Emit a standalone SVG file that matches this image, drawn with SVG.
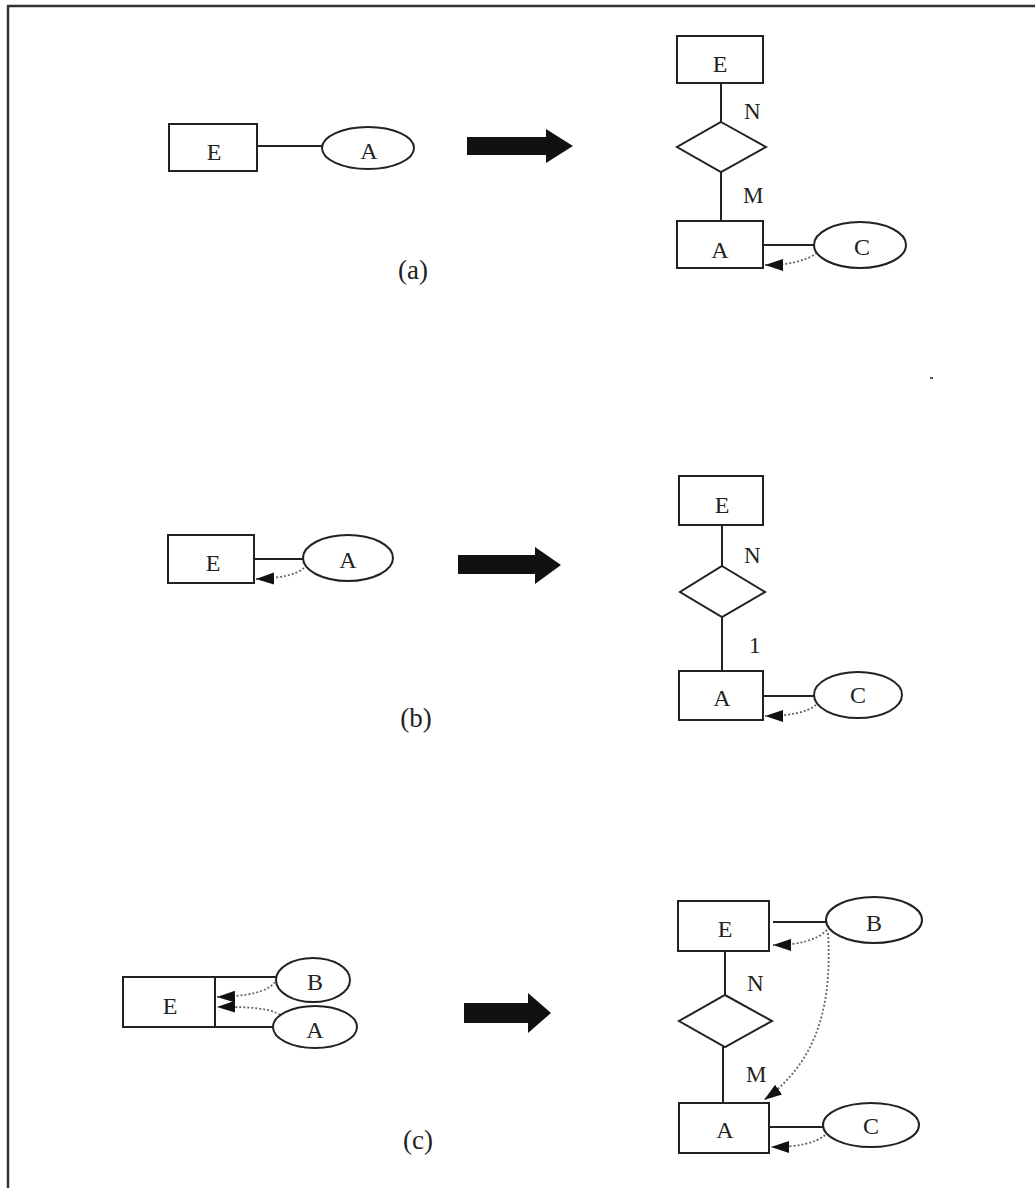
<svg xmlns="http://www.w3.org/2000/svg" width="1035" height="1188" viewBox="0 0 1035 1188">
  <style>
    .box { fill: #fff; stroke: #222; stroke-width: 2; }
    .attr { fill: #fff; stroke: #222; stroke-width: 2; }
    .rel { fill: #fff; stroke: #222; stroke-width: 2; }
    .link { fill: none; stroke: #222; stroke-width: 2; }
    .dep { fill: none; stroke: #666; stroke-width: 1.8; stroke-dasharray: 2 2; marker-end: url(#head); }
    .big { fill: #111; }
    .lbl { font-family: "Liberation Serif", "Times New Roman", serif; font-size: 24px; fill: #222; text-anchor: middle; }
    .card { font-family: "Liberation Serif", "Times New Roman", serif; font-size: 23px; fill: #222; }
    .cap { font-family: "Liberation Serif", "Times New Roman", serif; font-size: 27px; fill: #222; text-anchor: middle; }
  </style>
  <defs>
    <marker id="head" markerUnits="userSpaceOnUse" markerWidth="20" markerHeight="14" refX="18" refY="6" orient="auto" viewBox="0 0 20 12">
      <path d="M0,0 L18,6 L0,12 Z" fill="#111"/>
    </marker>
  </defs>

  <rect width="1035" height="1188" fill="#fff"/>

  <!-- page frame -->
  <g id="frame">
    <line x1="8" y1="6" x2="8" y2="1188" stroke="#333" stroke-width="2.5"/>
    <line x1="7" y1="6" x2="1035" y2="6" stroke="#333" stroke-width="2.5"/>
    <rect x="930" y="377" width="3" height="2" fill="#555"/>
  </g>

  <!-- connectors -->
  <g id="connectors">
    <!-- (a) -->
    <line class="link" x1="257" y1="146" x2="322" y2="146"/>
    <line class="link" x1="721" y1="83" x2="721" y2="122"/>
    <line class="link" x1="721" y1="172" x2="721" y2="221"/>
    <line class="link" x1="763" y1="245" x2="814" y2="245"/>
    <path class="dep" d="M817,253 Q800,265 765,265"/>
    <!-- (b) -->
    <line class="link" x1="254" y1="559" x2="303" y2="559"/>
    <path class="dep" d="M304,568 Q292,578 256,579"/>
    <line class="link" x1="722" y1="525" x2="722" y2="566"/>
    <line class="link" x1="722" y1="617" x2="722" y2="671"/>
    <line class="link" x1="763" y1="696" x2="814" y2="696"/>
    <path class="dep" d="M816,705 Q802,716 765,716"/>
    <!-- (c) -->
    <line class="link" x1="215" y1="977" x2="276" y2="977"/>
    <line class="link" x1="215" y1="1027" x2="273" y2="1027"/>
    <path class="dep" d="M275,982 Q265,996 217,997"/>
    <path class="dep" d="M280,1015 Q268,1006 217,1007"/>
    <line class="link" x1="773" y1="922" x2="826" y2="922"/>
    <path class="dep" d="M827,930 Q812,945 773,945"/>
    <line class="link" x1="725" y1="951" x2="725" y2="995"/>
    <line class="link" x1="723" y1="1047" x2="723" y2="1103"/>
    <line class="link" x1="769" y1="1127" x2="823" y2="1127"/>
    <path class="dep" d="M825,1135 Q812,1147 771,1147"/>
    <path class="dep" d="M828,933 C832,1000 820,1060 764,1100"/>
  </g>

  <!-- (a) source -->
  <g id="a-E"><rect class="box" x="169" y="124" width="88" height="47"/><text class="lbl" x="214" y="160">E</text></g>
  <g id="a-A"><ellipse class="attr" cx="368" cy="148" rx="46" ry="21"/><text class="lbl" x="369" y="159">A</text></g>
  <g id="a-arrow"><polygon class="big" points="467,137 546,137 546,129 573,146 546,163 546,155 467,155"/></g>
  <!-- (a) result -->
  <g id="a2-E"><rect class="box" x="677" y="36" width="86" height="47"/><text class="lbl" x="720" y="72">E</text></g>
  <g id="a2-R"><polygon class="rel" points="721,122 766,147 721,172 677,147"/></g>
  <g id="a2-A"><rect class="box" x="677" y="221" width="86" height="47"/><text class="lbl" x="720" y="258">A</text></g>
  <g id="a2-C"><ellipse class="attr" cx="860" cy="245" rx="46" ry="23"/><text class="lbl" x="862" y="255">C</text></g>
  <text class="card" x="744" y="119">N</text>
  <text class="card" x="743" y="203">M</text>
  <text class="cap" x="413" y="279">(a)</text>

  <!-- (b) source -->
  <g id="b-E"><rect class="box" x="168" y="535" width="86" height="48"/><text class="lbl" x="213" y="571">E</text></g>
  <g id="b-A"><ellipse class="attr" cx="348" cy="558" rx="45" ry="23"/><text class="lbl" x="348" y="568">A</text></g>
  <g id="b-arrow"><polygon class="big" points="458,555 535,555 535,547 561,565 535,584 535,574 458,574"/></g>
  <!-- (b) result -->
  <g id="b2-E"><rect class="box" x="679" y="476" width="84" height="49"/><text class="lbl" x="722" y="513">E</text></g>
  <g id="b2-R"><polygon class="rel" points="722,566 765,592 722,617 680,592"/></g>
  <g id="b2-A"><rect class="box" x="679" y="671" width="84" height="49"/><text class="lbl" x="722" y="706">A</text></g>
  <g id="b2-C"><ellipse class="attr" cx="858" cy="695" rx="44" ry="23"/><text class="lbl" x="858" y="703">C</text></g>
  <text class="card" x="744" y="563">N</text>
  <text class="card" x="749" y="653">1</text>
  <text class="cap" x="416" y="727">(b)</text>

  <!-- (c) source -->
  <g id="c-E"><rect class="box" x="123" y="977" width="92" height="50"/><text class="lbl" x="170" y="1014">E</text></g>
  <g id="c-B"><ellipse class="attr" cx="313" cy="980" rx="37" ry="22"/><text class="lbl" x="315" y="990">B</text></g>
  <g id="c-A"><ellipse class="attr" cx="315" cy="1027" rx="42" ry="21"/><text class="lbl" x="315" y="1038">A</text></g>
  <g id="c-arrow"><polygon class="big" points="464,1003 528,1003 528,993 551,1013 528,1033 528,1023 464,1023"/></g>
  <!-- (c) result -->
  <g id="c2-E"><rect class="box" x="678" y="901" width="91" height="50"/><text class="lbl" x="725" y="937">E</text></g>
  <g id="c2-B"><ellipse class="attr" cx="874" cy="920" rx="48" ry="23"/><text class="lbl" x="874" y="931">B</text></g>
  <g id="c2-R"><polygon class="rel" points="725,995 772,1021 725,1047 679,1021"/></g>
  <g id="c2-A"><rect class="box" x="679" y="1103" width="90" height="50"/><text class="lbl" x="725" y="1138">A</text></g>
  <g id="c2-C"><ellipse class="attr" cx="871" cy="1125" rx="48" ry="22"/><text class="lbl" x="871" y="1134">C</text></g>
  <text class="card" x="747" y="991">N</text>
  <text class="card" x="746" y="1082">M</text>
  <text class="cap" x="418" y="1149">(c)</text>
</svg>
